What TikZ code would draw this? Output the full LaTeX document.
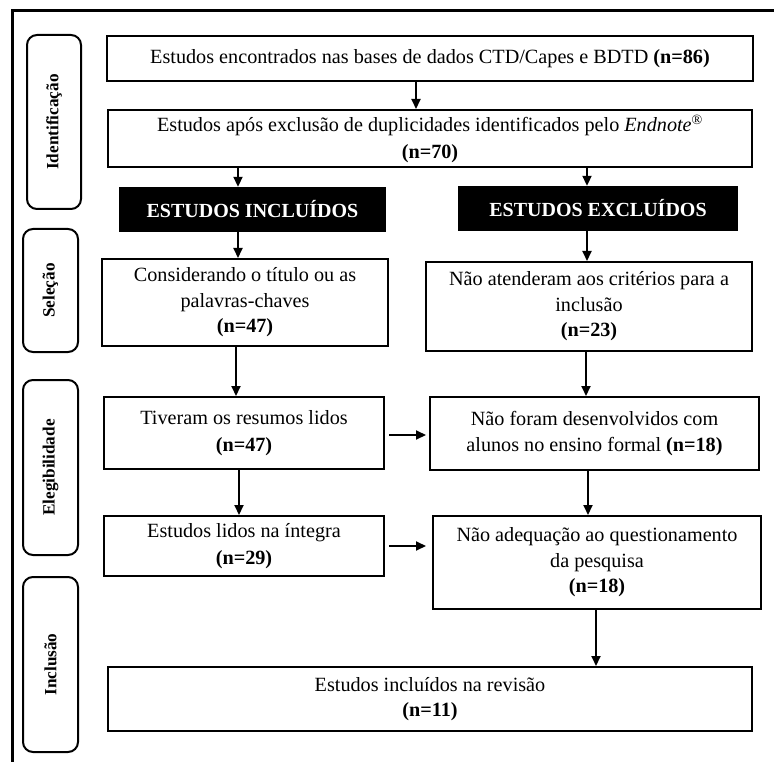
\documentclass[tikz,border=0pt]{standalone}
\usepackage{fontspec}
\setmainfont{Liberation Serif}
\usetikzlibrary{arrows.meta}
\begin{document}
\begin{tikzpicture}[x=1pt,y=-1pt,
  box/.style={draw, line width=2pt, fill=white, align=center, inner sep=0pt,
    font=\fontsize{20.2}{25.5}\selectfont},
  hdr/.style={fill=black, text=white, inner sep=0pt,
    font=\bfseries\fontsize{20}{24}\selectfont},
  side/.style={draw, line width=2pt, rounded corners=10pt, rotate=90, inner sep=0pt,
    font=\bfseries\fontsize{17.2}{20}\selectfont},
  arr/.style={line width=2pt, -{Triangle[length=10pt,width=9pt]}}]
\useasboundingbox (0,0) rectangle (774,762);
% outer frame (top and left only)
\draw[line width=3pt] (774,11) -- (12.5,11) -- (12.5,762);
% side labels
\node[side, minimum width=174pt, minimum height=54pt] (s1) at (54,122) {Identificação};
\node[side, minimum width=123pt, minimum height=55pt] (s2) at (50.5,290.5) {Seleção};
\node[side, minimum width=175pt, minimum height=55pt] (s3) at (50.5,467.5) {Elegibilidade};
\node[side, minimum width=175pt, minimum height=55pt] (s4) at (50.5,664.5) {Inclusão};
% main boxes
\node[box, minimum width=646pt, minimum height=45pt] (b1) at (430,58.5)
  {Estudos encontrados nas bases de dados CTD/Capes e BDTD \textbf{(n=86)}};
\node[box, minimum width=644pt, minimum height=57pt] (b2) at (430,138.5)
  {Estudos após exclusão de duplicidades identificados pelo \textit{Endnote}\textsuperscript{®}\\[1pt]\textbf{(n=70)}};
\node[hdr, minimum width=267pt, minimum height=45pt] (inc) at (252.5,209.5) {ESTUDOS INCLUÍDOS};
\node[hdr, minimum width=280pt, minimum height=45pt] (exc) at (598,208.5) {ESTUDOS EXCLUÍDOS};
\node[box, minimum width=286pt, minimum height=87pt] (con) at (245,302.5)
  {Considerando o título ou as\\palavras-chaves\\\textbf{(n=47)}};
\node[box, minimum width=326pt, minimum height=89pt] (nat) at (589,306.5)
  {Não atenderam aos critérios para a\\inclusão\\\textbf{(n=23)}};
\node[box, minimum width=280pt, minimum height=72pt] (tiv) at (244,433)
  {Tiveram os resumos lidos\\[1pt]\textbf{(n=47)}};
\node[box, minimum width=329pt, minimum height=73pt] (nfo) at (594.5,433.5)
  {Não foram desenvolvidos com\\alunos no ensino formal \textbf{(n=18)}};
\node[box, minimum width=280pt, minimum height=60pt] (lid) at (244,546)
  {Estudos lidos na íntegra\\[1pt]\textbf{(n=29)}};
\node[box, minimum width=328pt, minimum height=93pt] (nad) at (597,562.5)
  {Não adequação ao questionamento\\da pesquisa\\\textbf{(n=18)}};
\node[box, minimum width=644pt, minimum height=64pt] (fin) at (430,699)
  {Estudos incluídos na revisão\\\textbf{(n=11)}};
% connectors
\draw[arr] ([xshift=-14pt]b1.south) -- ([xshift=-14pt]b1.south |- b2.north);
\draw[arr] ([xshift=-14.5pt]inc.north |- b2.south) -- ([xshift=-14.5pt]inc.north);
\draw[arr] ([xshift=-11pt]exc.north |- b2.south) -- ([xshift=-11pt]exc.north);
\draw[arr] ([xshift=-14.5pt]inc.south) -- ([xshift=-14.5pt]inc.south |- con.north);
\draw[arr] ([xshift=-11pt]exc.south) -- ([xshift=-11pt]exc.south |- nat.north);
\draw[arr] ([xshift=-9pt]con.south) -- ([xshift=-9pt]con.south |- tiv.north);
\draw[arr] ([xshift=-3pt]nat.south) -- ([xshift=-3pt]nat.south |- nfo.north);
\draw[arr, shorten <=4pt, shorten >=3pt] ([yshift=-2pt]tiv.east) -- ([yshift=-2pt]nfo.west |- tiv.east);
\draw[arr] ([xshift=-5pt]tiv.south) -- ([xshift=-5pt]tiv.south |- lid.north);
\draw[arr] ([xshift=-6.5pt]nfo.south) -- ([xshift=-6.5pt]nfo.south |- nad.north);
\draw[arr, shorten <=4pt, shorten >=6pt] (lid.east) -- (nad.west |- lid.east);
\draw[arr] ([xshift=-1pt]nad.south) -- ([xshift=-1pt]nad.south |- fin.north);
\end{tikzpicture}
\end{document}
